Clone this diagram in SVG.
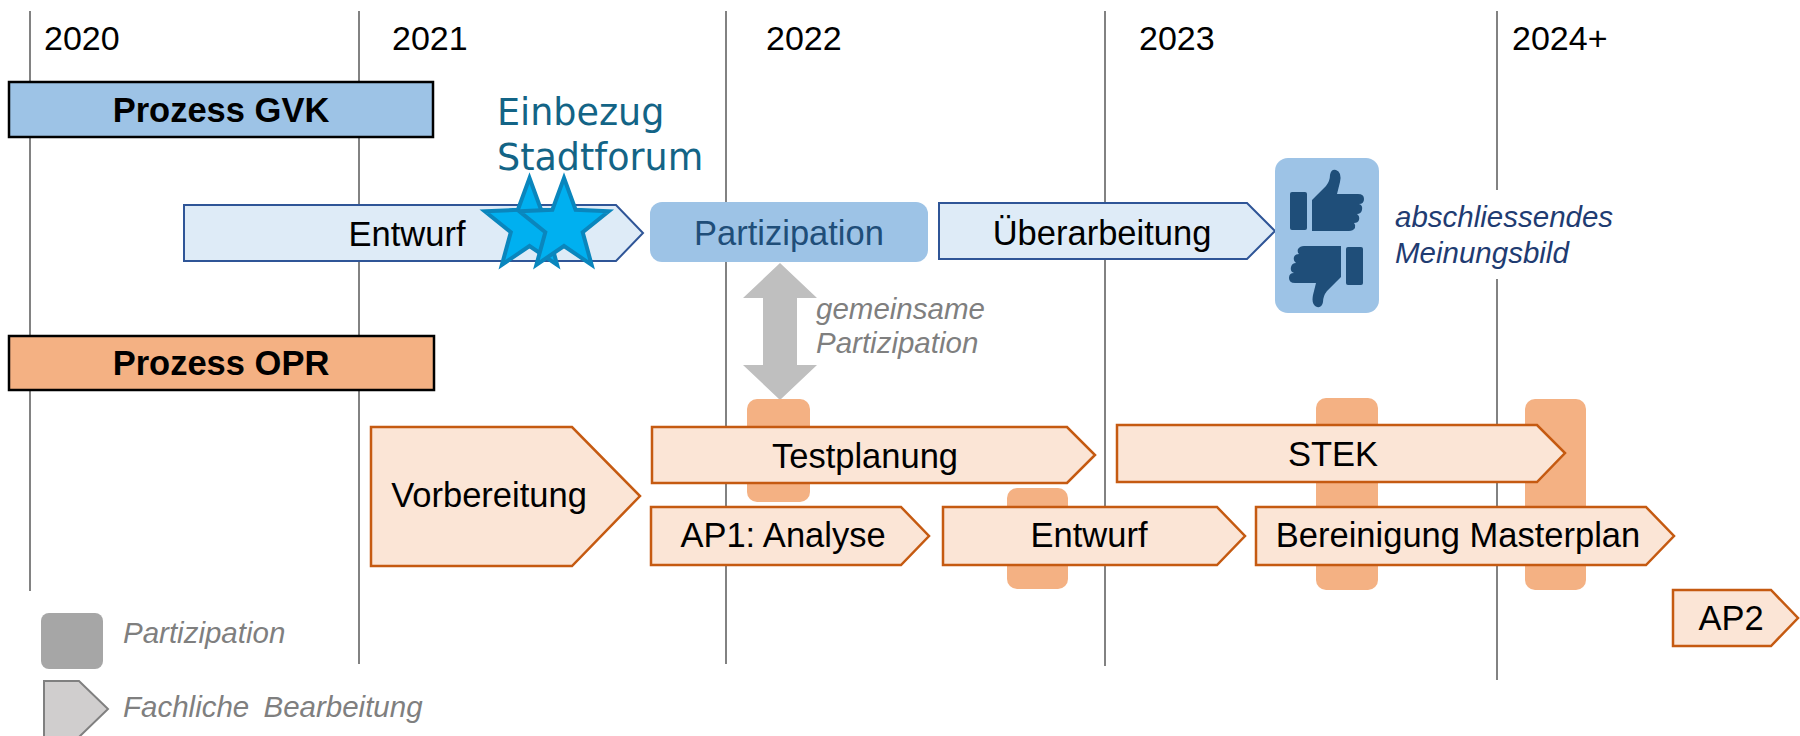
<svg xmlns="http://www.w3.org/2000/svg" xmlns:xlink="http://www.w3.org/1999/xlink" width="1800" height="736" viewBox="0 0 1800 736">
<style>
.grid{stroke:#595959;stroke-width:1.5;fill:none}
.yr{font-family:"Liberation Sans",Arial,sans-serif;font-size:34px;fill:#000}
.lbl{font-family:"Liberation Sans",Arial,sans-serif;font-size:34.5px;fill:#000;text-anchor:middle}
.hdr{font-family:"Liberation Sans",Arial,sans-serif;font-size:34.5px;font-weight:bold;fill:#000;text-anchor:middle}
.it{font-family:"Liberation Sans",Arial,sans-serif;font-size:29.5px;font-style:italic}
.blue{fill:#DEEBF7;stroke:#2F5597;stroke-width:2}
.orng{fill:#FBE5D6;stroke:#C55A11;stroke-width:2.5}
.part{fill:#F4B183}
.star{fill:#00B0F0;stroke:#0A86BD;stroke-width:4;stroke-linejoin:miter}
.icon{fill:#1F4E79}
</style>
<defs>
<polygon id="star" points="0,-48 11.6,-16.2 44.7,-14.8 18.7,6.2 27.6,38.8 0,20 -27.6,38.8 -18.7,6.2 -44.7,-14.8 -11.6,-16.2"/>
<g id="thumb">
<rect x="1290" y="192" width="17" height="38" rx="2"/>
<path d="M1312,200 L1326,186 Q1330,181 1330,175 Q1331,169 1336,170 Q1342,172 1340,182 L1337,194 L1358,194 Q1364,194 1364,199 Q1364,204 1359,204 Q1363,205 1362,210 Q1361,214 1357,214 Q1360,216 1359,220 Q1358,223 1354,223 Q1356,225 1355,228 Q1353,231 1349,231 L1312,231 Z"/>
</g>
</defs>
<rect x="0" y="0" width="1800" height="736" fill="#fff"/>

<g id="timeline">
<line class="grid" x1="30" y1="11" x2="30" y2="591"/>
<line class="grid" x1="359" y1="11" x2="359" y2="664"/>
<line class="grid" x1="726" y1="11" x2="726" y2="664"/>
<line class="grid" x1="1105" y1="11" x2="1105" y2="666"/>
<line class="grid" x1="1497" y1="11" x2="1497" y2="190"/>
<line class="grid" x1="1497" y1="279" x2="1497" y2="680"/>
<text class="yr" x="44" y="50">2020</text>
<text class="yr" x="392" y="50">2021</text>
<text class="yr" x="766" y="50">2022</text>
<text class="yr" x="1139" y="50">2023</text>
<text class="yr" x="1512" y="50">2024+</text>
</g>

<g id="prozess-gvk">
<rect x="9" y="82" width="424" height="55" fill="#9DC3E6" stroke="#000" stroke-width="2.5"/>
<text class="hdr" x="221" y="122">Prozess GVK</text>
</g>

<g id="prozess-opr">
<rect x="9" y="336" width="425" height="54" fill="#F4B183" stroke="#000" stroke-width="2.5"/>
<text class="hdr" x="221" y="375">Prozess OPR</text>
</g>

<g id="einbezug">
<text font-family="'DejaVu Sans',Verdana,sans-serif" font-size="36.5" fill="#136486">
<tspan x="497" y="125">Einbezug</tspan>
<tspan x="497" y="170">Stadtforum</tspan>
</text>
</g>

<g id="entwurf-gvk">
<polygon class="blue" points="184,205 616,205 643,233 616,261 184,261"/>
<text class="lbl" x="407" y="246">Entwurf</text>
</g>

<g id="stars">
<use xlink:href="#star" href="#star" class="star" transform="translate(529.5,226)"/>
<use xlink:href="#star" href="#star" class="star" transform="translate(564,226)"/>
</g>

<g id="partizipation-gvk">
<rect x="650" y="202" width="278" height="60" rx="12" fill="#9DC3E6"/>
<text class="lbl" x="789" y="245" style="fill:#1F4E79">Partizipation</text>
</g>

<g id="ueberarbeitung">
<polygon class="blue" points="939,203 1247,203 1275,231 1247,259 939,259"/>
<text class="lbl" x="1102" y="245">Überarbeitung</text>
</g>

<g id="meinungsbild">
<rect x="1275" y="158" width="104" height="155" rx="13" fill="#9DC3E6"/>
<use xlink:href="#thumb" href="#thumb" class="icon"/>
<use xlink:href="#thumb" href="#thumb" class="icon" transform="rotate(180,1326.5,238.5)"/>
<text class="it" fill="#1F3C72">
<tspan x="1395" y="227">abschliessendes</tspan>
<tspan x="1395" y="263">Meinungsbild</tspan>
</text>
</g>

<g id="gemeinsame-partizipation">
<path d="M780,263 L817,298 L797,298 L797,365 L817,365 L780,400 L743,365 L763,365 L763,298 L743,298 Z" fill="#BFBFBF"/>
<text class="it" fill="#7F7F7F">
<tspan x="816" y="319">gemeinsame</tspan>
<tspan x="816" y="353">Partizipation</tspan>
</text>
</g>

<g id="partizipation-opr">
<rect class="part" x="747" y="399" width="63" height="103" rx="10"/>
<rect class="part" x="1007" y="488" width="61" height="101" rx="10"/>
<rect class="part" x="1316" y="398" width="62" height="192" rx="10"/>
<rect class="part" x="1525" y="399" width="61" height="191" rx="10"/>
</g>

<g id="vorbereitung">
<polygon class="orng" points="371,427 572,427 640,496 572,566 371,566"/>
<text class="lbl" x="489" y="507">Vorbereitung</text>
</g>

<g id="testplanung">
<polygon class="orng" points="652,427 1067,427 1095,455 1067,483 652,483"/>
<text class="lbl" x="865" y="468">Testplanung</text>
</g>

<g id="ap1">
<polygon class="orng" points="651,507 901,507 929,536 901,565 651,565"/>
<text class="lbl" x="783" y="547">AP1: Analyse</text>
</g>

<g id="entwurf-opr">
<polygon class="orng" points="943,507 1217,507 1245,536 1217,565 943,565"/>
<text class="lbl" x="1089" y="547">Entwurf</text>
</g>

<g id="stek">
<polygon class="orng" points="1117,425 1537,425 1565,453 1537,482 1117,482"/>
<text class="lbl" x="1333" y="466">STEK</text>
</g>

<g id="bereinigung">
<polygon class="orng" points="1256,507 1646,507 1674,536 1646,565 1256,565"/>
<text class="lbl" x="1458" y="547">Bereinigung Masterplan</text>
</g>

<g id="ap2">
<polygon class="orng" points="1673,590 1771,590 1798,618 1771,646 1673,646"/>
<text class="lbl" x="1731" y="630">AP2</text>
</g>

<g id="legend">
<rect x="41" y="613" width="62" height="56" rx="8" fill="#A6A6A6"/>
<text class="it" x="123" y="643" fill="#7F7F7F" font-size="29">Partizipation</text>
<polygon points="44,681 79,681 108,709 79,737 44,737" fill="#D0CECE" stroke="#808080" stroke-width="2"/>
<text class="it" x="123" y="717" fill="#7F7F7F" font-size="29" word-spacing="6">Fachliche Bearbeitung</text>
</g>

<g id="connectors"></g>
</svg>
